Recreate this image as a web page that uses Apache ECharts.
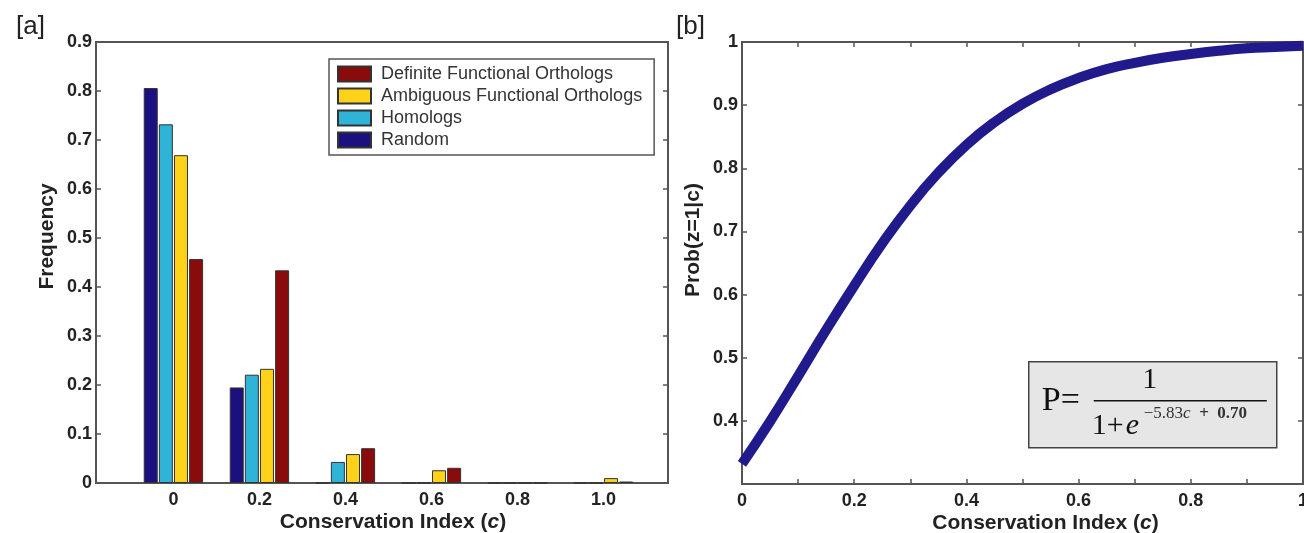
<!DOCTYPE html>
<html>
<head>
<meta charset="utf-8">
<script src="https://cdn.jsdelivr.net/npm/echarts@6/dist/echarts.min.js"></script>
<style>html,body{margin:0;padding:0;background:#fff}#chart{width:1304px;height:533px}</style>
</head>
<body>
<div id="chart"></div>
<script>
// Panel [a] data
var binsA = [0, 0.2, 0.4, 0.6, 0.8, 1.0];
var xTicksA = [0, 0.2, 0.4, 0.6, 0.8, 1.0];
var randomVals = [0.806, 0.195, 0, 0, 0, 0];
var homologVals = [0.732, 0.221, 0.043, 0, 0, 0];
var ambiguousVals = [0.669, 0.233, 0.059, 0.026, 0, 0.010];
var definiteVals = [0.457, 0.434, 0.071, 0.031, 0, 0.003];
var seriesNames = ['Random', 'Homologs', 'Ambiguous Functional Orthologs', 'Definite Functional Orthologs'];
var legendOrder = ['Definite Functional Orthologs', 'Ambiguous Functional Orthologs', 'Homologs', 'Random'];

// Panel [b] data
var cValues = [0, 0.05, 0.1, 0.15, 0.2, 0.25, 0.3, 0.35, 0.4, 0.45, 0.5, 0.55, 0.6, 0.65, 0.7, 0.75, 0.8, 0.85, 0.9, 0.95, 1.0];
var probValues = [0.332, 0.399, 0.471, 0.544, 0.614, 0.681, 0.741, 0.793, 0.837, 0.873, 0.902, 0.925, 0.943, 0.957, 0.967, 0.975, 0.981, 0.986, 0.990, 0.992, 0.994];

var colors = ['#1b1080', '#2fb3d6', '#ffd21a', '#8a0b0b'];
var valsBySeries = [randomVals, homologVals, ambiguousVals, definiteVals];

function pairs(xs, ys) { return xs.map(function (x, i) { return [x, ys[i]]; }); }

var FONT = 'Liberation Sans, Arial, sans-serif';
var SERIF = '"Liberation Serif", "Times New Roman", serif';
var axisColor = '#555';
var labelStyle = { color: '#222', fontWeight: 'bold', fontSize: 18, fontFamily: FONT };
var nameStyleBase = { color: '#222', fontWeight: 'bold', fontSize: 21, fontFamily: FONT };
var tickStyle = { show: true, inside: true, length: 5, lineStyle: { color: axisColor, width: 1.5 } };
var hiddenLine = { show: false, onZero: false };

var barSeries = seriesNames.map(function (n, i) {
  return {
    name: n, type: 'bar', xAxisIndex: 0, yAxisIndex: 0,
    barWidth: 14, barGap: '8%',
    itemStyle: { color: colors[i], borderColor: '#333', borderWidth: 1 },
    data: pairs(binsA, valsBySeries[i])
  };
});

var chart = echarts.init(document.getElementById('chart'), null, { renderer: 'canvas' });
chart.setOption({
  animation: false,
  backgroundColor: '#fff',
  title: [
    { text: '[a]', left: 11, top: 9, textStyle: { fontSize: 26, fontWeight: 'normal', color: '#222', fontFamily: FONT } },
    { text: '[b]', left: 671, top: 9, textStyle: { fontSize: 26, fontWeight: 'normal', color: '#222', fontFamily: FONT } }
  ],
  grid: [
    { left: 96, top: 42, right: 636, bottom: 50, show: true, borderColor: axisColor, borderWidth: 2, backgroundColor: '#fff', outerBoundsMode: 'none', containLabel: false },
    { left: 742, top: 42, right: 1, bottom: 49, show: true, borderColor: axisColor, borderWidth: 2, backgroundColor: '#fff', outerBoundsMode: 'none', containLabel: false }
  ],
  legend: {
    data: legendOrder,
    orient: 'vertical', left: 329, top: 59, width: 323,
    itemWidth: 33, itemHeight: 15, itemGap: 4,
    padding: [6, 12, 6, 8],
    backgroundColor: '#fff', borderColor: '#555', borderWidth: 1.5,
    icon: 'rect',
    textStyle: { color: '#333', fontSize: 18, fontFamily: FONT, padding: [0, 0, 0, 5] }
  },
  xAxis: [
    {
      type: 'value', gridIndex: 0, min: -0.18, max: 1.15, position: 'bottom',
      splitLine: { show: false }, axisTick: { show: false },
      axisLine: { show: true, onZero: false, lineStyle: { color: axisColor, width: 2 } },
      axisLabel: Object.assign({ customValues: xTicksA, margin: 8,
        formatter: function (v) { return Math.abs(v - 1) < 1e-9 ? '1.0' : String(v); } }, labelStyle),
      name: 'Conservation Index ({it|c})', nameLocation: 'middle', nameGap: 29, nameMoveOverlap: false,
      nameTextStyle: Object.assign({ padding: [0, 0, 0, 22], rich: { it: { fontStyle: 'italic', fontWeight: 'bold', fontSize: 21, color: '#222', fontFamily: FONT } } }, nameStyleBase)
    },
    {
      type: 'value', gridIndex: 1, min: 0, max: 1, interval: 0.1, position: 'bottom',
      splitLine: { show: false },
      axisTick: tickStyle,
      axisLine: { show: true, onZero: false, lineStyle: { color: axisColor, width: 2 } },
      axisLabel: Object.assign({ margin: 8,
        formatter: function (v) { var k = Math.round(v * 10); return k % 2 === 0 ? String(k / 10) : ''; } }, labelStyle),
      name: 'Conservation Index ({it|c})', nameLocation: 'middle', nameGap: 29, nameMoveOverlap: false,
      nameTextStyle: Object.assign({ padding: [0, 0, 0, 46], rich: { it: { fontStyle: 'italic', fontWeight: 'bold', fontSize: 21, color: '#222', fontFamily: FONT } } }, nameStyleBase)
    },
    {
      type: 'value', gridIndex: 1, min: 0, max: 1, interval: 0.1, position: 'top',
      splitLine: { show: false }, axisLabel: { show: false },
      axisTick: tickStyle,
      axisLine: hiddenLine
    }
  ],
  yAxis: [
    {
      type: 'value', gridIndex: 0, min: 0, max: 0.9, interval: 0.1, position: 'left',
      splitLine: { show: false },
      axisTick: tickStyle,
      axisLine: { show: true, onZero: false, lineStyle: { color: axisColor, width: 2 } },
      axisLabel: Object.assign({ margin: 4, formatter: function (v) { return String(Math.round(v * 10) / 10); } }, labelStyle),
      name: 'Frequency', nameLocation: 'middle', nameGap: 38, nameMoveOverlap: false,
      nameTextStyle: Object.assign({ padding: [0, 0, 0, 52] }, nameStyleBase)
    },
    {
      type: 'value', gridIndex: 0, min: 0, max: 0.9, interval: 0.1, position: 'right',
      splitLine: { show: false }, axisLabel: { show: false },
      axisTick: tickStyle,
      axisLine: hiddenLine
    },
    {
      type: 'value', gridIndex: 1, min: 0.3, max: 1, interval: 0.1, position: 'left',
      splitLine: { show: false },
      axisTick: tickStyle,
      axisLine: { show: true, onZero: false, lineStyle: { color: axisColor, width: 2 } },
      axisLabel: Object.assign({ margin: 4, formatter: function (v) { var k = Math.round(v * 10); return k <= 3 ? '' : String(k / 10); } }, labelStyle),
      name: 'Prob(z=1|c)', nameLocation: 'middle', nameGap: 38, nameMoveOverlap: false,
      nameTextStyle: Object.assign({ padding: [0, 0, 0, 46] }, nameStyleBase)
    },
    {
      type: 'value', gridIndex: 1, min: 0.3, max: 1, interval: 0.1, position: 'right',
      splitLine: { show: false }, axisLabel: { show: false },
      axisTick: tickStyle,
      axisLine: hiddenLine
    }
  ],
  series: barSeries.concat([
    {
      name: 'P', type: 'line', xAxisIndex: 1, yAxisIndex: 2,
      smooth: true, showSymbol: false, symbol: 'none',
      lineStyle: { color: '#211a8c', width: 10 },
      data: pairs(cValues, probValues)
    }
  ]),
  graphic: [
    {
      type: 'group', left: 1028, top: 361,
      children: [
        { type: 'rect', shape: { x: 0, y: 0, width: 248, height: 86 }, style: { fill: '#e6e6e6', stroke: '#444', lineWidth: 1.5 } },
        { type: 'text', style: { text: 'P=', x: 13, y: 39, font: '34px ' + SERIF, fill: '#111', textVerticalAlign: 'middle' } },
        { type: 'text', style: { text: '1', x: 121, y: 18, font: '30px ' + SERIF, fill: '#111', textAlign: 'center', textVerticalAlign: 'middle' } },
        { type: 'line', shape: { x1: 65, y1: 39, x2: 238, y2: 39 }, style: { stroke: '#111', lineWidth: 1.5 } },
        { type: 'text', style: { text: '1+', x: 63, y: 64, font: '30px ' + SERIF, fill: '#111', textVerticalAlign: 'middle' } },
        { type: 'text', style: { text: 'e', x: 97, y: 64, font: 'italic 30px ' + SERIF, fill: '#111', textVerticalAlign: 'middle' } },
        { type: 'text', style: {
            text: '{n|\u22125.83}{i|c}{b|  +  0.70}', x: 115, y: 52, textVerticalAlign: 'middle',
            rich: {
              n: { fontSize: 17, fontFamily: SERIF, fill: '#333', color: '#333' },
              i: { fontSize: 17, fontStyle: 'italic', fontFamily: SERIF, fill: '#333', color: '#333' },
              b: { fontSize: 17, fontWeight: 'bold', fontFamily: SERIF, fill: '#333', color: '#333' }
            }
        } }
      ]
    }
  ]
});
</script>
</body>
</html>
